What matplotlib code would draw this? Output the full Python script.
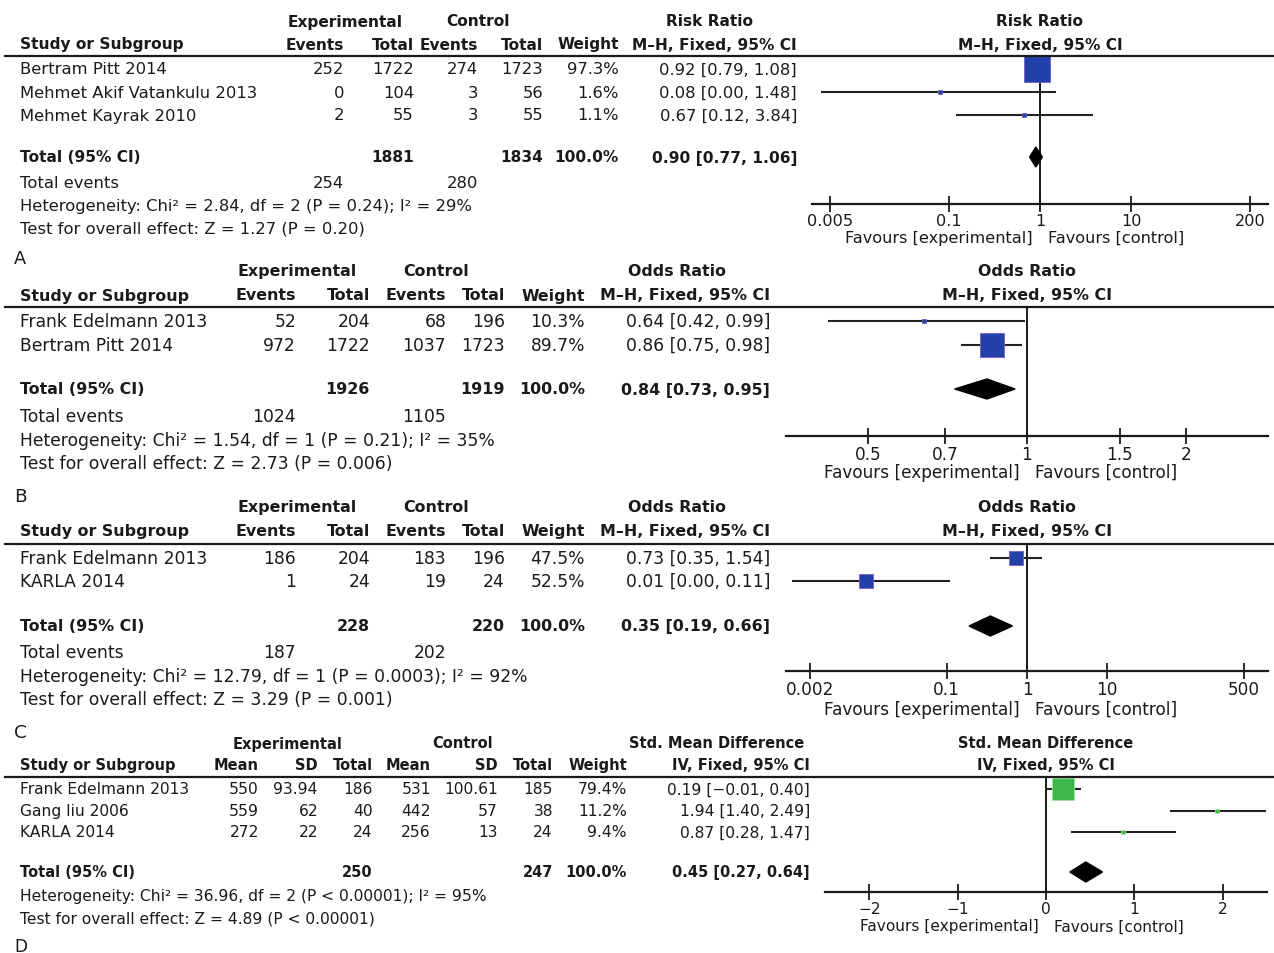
import matplotlib
matplotlib.use("Agg")
import matplotlib.pyplot as plt
from matplotlib.lines import Line2D
from matplotlib.ticker import NullLocator, FixedLocator, FixedFormatter

# ---------------- data ----------------
# A: risk ratio
a_study = ["Bertram Pitt 2014", "Mehmet Akif Vatankulu 2013", "Mehmet Kayrak 2010"]
a_exp_ev = [252, 0, 2]
a_exp_n = [1722, 104, 55]
a_ctl_ev = [274, 3, 3]
a_ctl_n = [1723, 56, 55]
a_weight = [97.3, 1.6, 1.1]
a_est = [0.92, 0.08, 0.67]
a_lo = [0.79, 0.004, 0.12]
a_hi = [1.08, 1.48, 3.84]
a_pooled = [0.90, 0.77, 1.06]
a_tot_n = [1881, 1834]
a_tot_ev = [254, 280]
a_het = "Heterogeneity: Chi² = 2.84, df = 2 (P = 0.24); I² = 29%"
a_test = "Test for overall effect: Z = 1.27 (P = 0.20)"
a_ticks = [0.005, 0.1, 1, 10, 200]
a_ticklabels = ["0.005", "0.1", "1", "10", "200"]

# B: odds ratio
b_study = ["Frank Edelmann 2013", "Bertram Pitt 2014"]
b_exp_ev = [52, 972]
b_exp_n = [204, 1722]
b_ctl_ev = [68, 1037]
b_ctl_n = [196, 1723]
b_weight = [10.3, 89.7]
b_est = [0.64, 0.86]
b_lo = [0.42, 0.75]
b_hi = [0.99, 0.98]
b_pooled = [0.84, 0.73, 0.95]
b_tot_n = [1926, 1919]
b_tot_ev = [1024, 1105]
b_het = "Heterogeneity: Chi² = 1.54, df = 1 (P = 0.21); I² = 35%"
b_test = "Test for overall effect: Z = 2.73 (P = 0.006)"
b_ticks = [0.5, 0.7, 1, 1.5, 2]
b_ticklabels = ["0.5", "0.7", "1", "1.5", "2"]

# C: odds ratio
c_study = ["Frank Edelmann 2013", "KARLA 2014"]
c_exp_ev = [186, 1]
c_exp_n = [204, 24]
c_ctl_ev = [183, 19]
c_ctl_n = [196, 24]
c_weight = [47.5, 52.5]
c_est = [0.73, 0.01]
c_lo = [0.35, 0.0012]
c_hi = [1.54, 0.11]
c_pooled = [0.35, 0.19, 0.66]
c_tot_n = [228, 220]
c_tot_ev = [187, 202]
c_het = "Heterogeneity: Chi² = 12.79, df = 1 (P = 0.0003); I² = 92%"
c_test = "Test for overall effect: Z = 3.29 (P = 0.001)"
c_ticks = [0.002, 0.1, 1, 10, 500]
c_ticklabels = ["0.002", "0.1", "1", "10", "500"]

# D: standardised mean difference
d_study = ["Frank Edelmann 2013", "Gang liu 2006", "KARLA 2014"]
d_exp_mean = [550, 559, 272]
d_exp_sd = [93.94, 62, 22]
d_exp_n = [186, 40, 24]
d_ctl_mean = [531, 442, 256]
d_ctl_sd = [100.61, 57, 13]
d_ctl_n = [185, 38, 24]
d_weight = [79.4, 11.2, 9.4]
d_est = [0.19, 1.94, 0.87]
d_lo = [-0.01, 1.40, 0.28]
d_hi = [0.40, 2.49, 1.47]
d_pooled = [0.45, 0.27, 0.64]
d_tot_n = [250, 247]
d_het = "Heterogeneity: Chi² = 36.96, df = 2 (P < 0.00001); I² = 95%"
d_test = "Test for overall effect: Z = 4.89 (P < 0.00001)"
d_ticks = [-2, -1, 0, 1, 2]
d_ticklabels = ["−2", "−1", "0", "1", "2"]

# ---------------- drawing ----------------
W, H = 1274, 954
fig = plt.figure(figsize=(W / 100, H / 100), dpi=100)
fig.patch.set_facecolor("white")
plt.rcParams["font.family"] = ["DejaVu Sans"]
INK = "#1a1a1a"
BLUE = "#2340a8"
BLUE_EDGE = "#7a5cc8"
GREEN = "#3cb84a"
GREEN_EDGE = "#a8e0a0"


def fx(x):
    return x / W


def fy(y):
    return 1 - y / H


def txt(x, y, s, fs, ha="left", bold=False):
    fig.text(fx(x), fy(y), s, ha=ha, va="center",
             fontsize=fs["bold"] if bold else fs["reg"],
             fontweight="bold" if bold else "normal", color=INK)


def ci_text(est, lo, hi):
    return f"{est:.2f} [{lo:.2f}, {hi:.2f}]".replace("-", "−")


def box_side(w):
    # square side in pixels grows with study weight
    return max(4.5, 2.0 + 0.24 * w)


def forest(lay, est, lo, hi, weight, pooled, ticks, ticklabels, log, colour, edge,
           ref, title1, title2, fs):
    x0, x1 = lay["ax_x"]
    ytop, yaxis = lay["line_y"], lay["axis_y"]
    ax = fig.add_axes([fx(x0), fy(yaxis), (x1 - x0) / W, (yaxis - ytop) / H])
    ax.set_facecolor("none")
    if log:
        ax.set_xscale("log")
    ax.set_xlim(*lay["xlim"])
    ax.set_ylim(yaxis, ytop)
    for s in ("top", "left", "right"):
        ax.spines[s].set_visible(False)
    ax.spines["bottom"].set_linewidth(1.6)
    ax.spines["bottom"].set_color(INK)
    ax.yaxis.set_visible(False)
    ax.xaxis.set_major_locator(FixedLocator(ticks))
    ax.xaxis.set_major_formatter(FixedFormatter(ticklabels))
    ax.xaxis.set_minor_locator(NullLocator())
    small = fs["reg"] * 0.985
    ax.tick_params(axis="x", direction="inout", length=12, width=1.3, pad=0.5,
                   labelsize=small, colors=INK)
    ax.axvline(ref, color=INK, lw=1.4, zorder=1)

    rows = [lay["row_y0"] + i * lay["row_step"] for i in range(len(est))]
    for y, e, l, h, w in zip(rows, est, lo, hi, weight):
        ax.plot([l, h], [y, y], color="#222222", lw=1.5, zorder=2,
                solid_capstyle="butt")
        ax.plot([e], [y], marker="s", ms=box_side(w) * 0.72, color=colour,
                mec=edge, mew=0.6, zorder=3, clip_on=False)
    pe, pl, ph = pooled
    yt = lay["total_y"]
    ax.fill([pl, pe, ph, pe], [yt, yt - 10, yt, yt + 10], color="black",
            zorder=3)

    dy = -(lay["fav_y"] - yaxis) * 0.72
    ax.annotate("Favours [experimental]", xy=(ref, 0),
                xycoords=("data", "axes fraction"), xytext=(-5, dy),
                textcoords="offset points", ha="right", va="center",
                fontsize=small, color=INK)
    ax.annotate("Favours [control]", xy=(ref, 0),
                xycoords=("data", "axes fraction"), xytext=(6, dy),
                textcoords="offset points", ha="left", va="center",
                fontsize=small, color=INK)
    xc = (x0 + x1) / 2
    txt(xc, lay["h1_y"], title1, fs, ha="center", bold=True)
    txt(xc, lay["h2_y"], title2, fs, ha="center", bold=True)


def table(lay, study, columns, weight, est, lo, hi, pooled, tot_n, tot_ev,
          het, test, heads, group_titles, letter, fs):
    cols = lay["cols"]
    for cx, t in zip(lay["group_x"], group_titles):
        txt(cx, lay["h1_y"], t, fs, ha="center", bold=True)
    txt(20, lay["h2_y"], "Study or Subgroup", fs, bold=True)
    for cx, t in zip(cols, heads):
        txt(cx, lay["h2_y"], t, fs, ha="right", bold=True)
    fig.add_artist(Line2D([fx(5), fx(W)], [fy(lay["line_y"])] * 2,
                          color=INK, lw=1.6))
    n_num = len(columns)
    for i, name in enumerate(study):
        y = lay["row_y0"] + i * lay["row_step"]
        txt(20, y, name, fs)
        for j in range(n_num):
            txt(cols[j], y, f"{columns[j][i]:g}", fs, ha="right")
        txt(cols[n_num], y, f"{weight[i]:.1f}%", fs, ha="right")
        txt(cols[n_num + 1], y, ci_text(est[i], lo[i], hi[i]), fs, ha="right")
    yt = lay["total_y"]
    txt(20, yt, "Total (95% CI)", fs, bold=True)
    txt(cols[lay["n_col"][0]], yt, f"{tot_n[0]}", fs, ha="right", bold=True)
    txt(cols[lay["n_col"][1]], yt, f"{tot_n[1]}", fs, ha="right", bold=True)
    txt(cols[n_num], yt, f"{sum(weight):.1f}%", fs, ha="right", bold=True)
    txt(cols[n_num + 1], yt, ci_text(*pooled), fs, ha="right", bold=True)
    if tot_ev is not None:
        txt(20, lay["ev_y"], "Total events", fs)
        txt(cols[0], lay["ev_y"], f"{tot_ev[0]}", fs, ha="right")
        txt(cols[2], lay["ev_y"], f"{tot_ev[1]}", fs, ha="right")
    txt(20, lay["het_y"], het, fs)
    txt(20, lay["test_y"], test, fs)
    fig.text(fx(14), fy(lay["letter_y"]), letter, ha="left", va="center",
             fontsize=fs["reg"] + 1, color=INK)


bin_heads = ["Events", "Total", "Events", "Total", "Weight"]

lay_a = dict(h1_y=22, h2_y=45, line_y=57, row_y0=70, row_step=23, total_y=158,
             ev_y=184, het_y=207, test_y=229, letter_y=259, axis_y=205,
             fav_y=238, ax_x=(812, 1268), xlim=(1 / 314, 314),
             cols=[344, 414, 478, 543, 619, 797], n_col=(1, 3),
             group_x=[345, 478, 709])
lay_b = dict(h1_y=272, h2_y=296, line_y=308, row_y0=322, row_step=24, total_y=390,
             ev_y=417, het_y=441, test_y=464, letter_y=497, axis_y=437,
             fav_y=473, ax_x=(786, 1268), xlim=(0.35, 2.86),
             cols=[296, 370, 446, 505, 585, 770], n_col=(1, 3),
             group_x=[297, 436, 677])
lay_c = dict(h1_y=508, h2_y=532, line_y=545, row_y0=559, row_step=23, total_y=627,
             ev_y=653, het_y=677, test_y=700, letter_y=733, axis_y=672,
             fav_y=710, ax_x=(786, 1268), xlim=(0.001, 1000),
             cols=[296, 370, 446, 505, 585, 770], n_col=(1, 3),
             group_x=[297, 436, 677])
lay_d = dict(h1_y=744, h2_y=766, line_y=778, row_y0=790, row_step=21.5, total_y=873,
             ev_y=None, het_y=897, test_y=919, letter_y=947, axis_y=893,
             fav_y=927, ax_x=(825, 1267), xlim=(-2.5, 2.5),
             cols=[259, 318, 373, 431, 498, 553, 627, 810], n_col=(2, 5),
             group_x=[288, 463, 717])

fs_a = dict(reg=11.8, bold=11.1)
fs_bc = dict(reg=12.3, bold=11.45)
fs_d = dict(reg=11.2, bold=10.5)

table(lay_a, a_study, [a_exp_ev, a_exp_n, a_ctl_ev, a_ctl_n], a_weight, a_est,
      a_lo, a_hi, a_pooled, a_tot_n, a_tot_ev, a_het, a_test,
      bin_heads + ["M–H, Fixed, 95% CI"], ["Experimental", "Control", "Risk Ratio"],
      "A", fs_a)
forest(lay_a, a_est, a_lo, a_hi, a_weight, a_pooled, a_ticks, a_ticklabels, True,
       BLUE, BLUE_EDGE, 1, "Risk Ratio", "M–H, Fixed, 95% CI", fs_a)

table(lay_b, b_study, [b_exp_ev, b_exp_n, b_ctl_ev, b_ctl_n], b_weight, b_est,
      b_lo, b_hi, b_pooled, b_tot_n, b_tot_ev, b_het, b_test,
      bin_heads + ["M–H, Fixed, 95% CI"], ["Experimental", "Control", "Odds Ratio"],
      "B", fs_bc)
forest(lay_b, b_est, b_lo, b_hi, b_weight, b_pooled, b_ticks, b_ticklabels, True,
       BLUE, BLUE_EDGE, 1, "Odds Ratio", "M–H, Fixed, 95% CI", fs_bc)

table(lay_c, c_study, [c_exp_ev, c_exp_n, c_ctl_ev, c_ctl_n], c_weight, c_est,
      c_lo, c_hi, c_pooled, c_tot_n, c_tot_ev, c_het, c_test,
      bin_heads + ["M–H, Fixed, 95% CI"], ["Experimental", "Control", "Odds Ratio"],
      "C", fs_bc)
forest(lay_c, c_est, c_lo, c_hi, c_weight, c_pooled, c_ticks, c_ticklabels, True,
       BLUE, BLUE_EDGE, 1, "Odds Ratio", "M–H, Fixed, 95% CI", fs_bc)

table(lay_d, d_study, [d_exp_mean, d_exp_sd, d_exp_n, d_ctl_mean, d_ctl_sd, d_ctl_n],
      d_weight, d_est, d_lo, d_hi, d_pooled, d_tot_n, None, d_het, d_test,
      ["Mean", "SD", "Total", "Mean", "SD", "Total", "Weight", "IV, Fixed, 95% CI"],
      ["Experimental", "Control", "Std. Mean Difference"], "D", fs_d)
forest(lay_d, d_est, d_lo, d_hi, d_weight, d_pooled, d_ticks, d_ticklabels, False,
       GREEN, GREEN_EDGE, 0, "Std. Mean Difference", "IV, Fixed, 95% CI", fs_d)

fig.savefig("out.png", dpi=100, facecolor="white")
